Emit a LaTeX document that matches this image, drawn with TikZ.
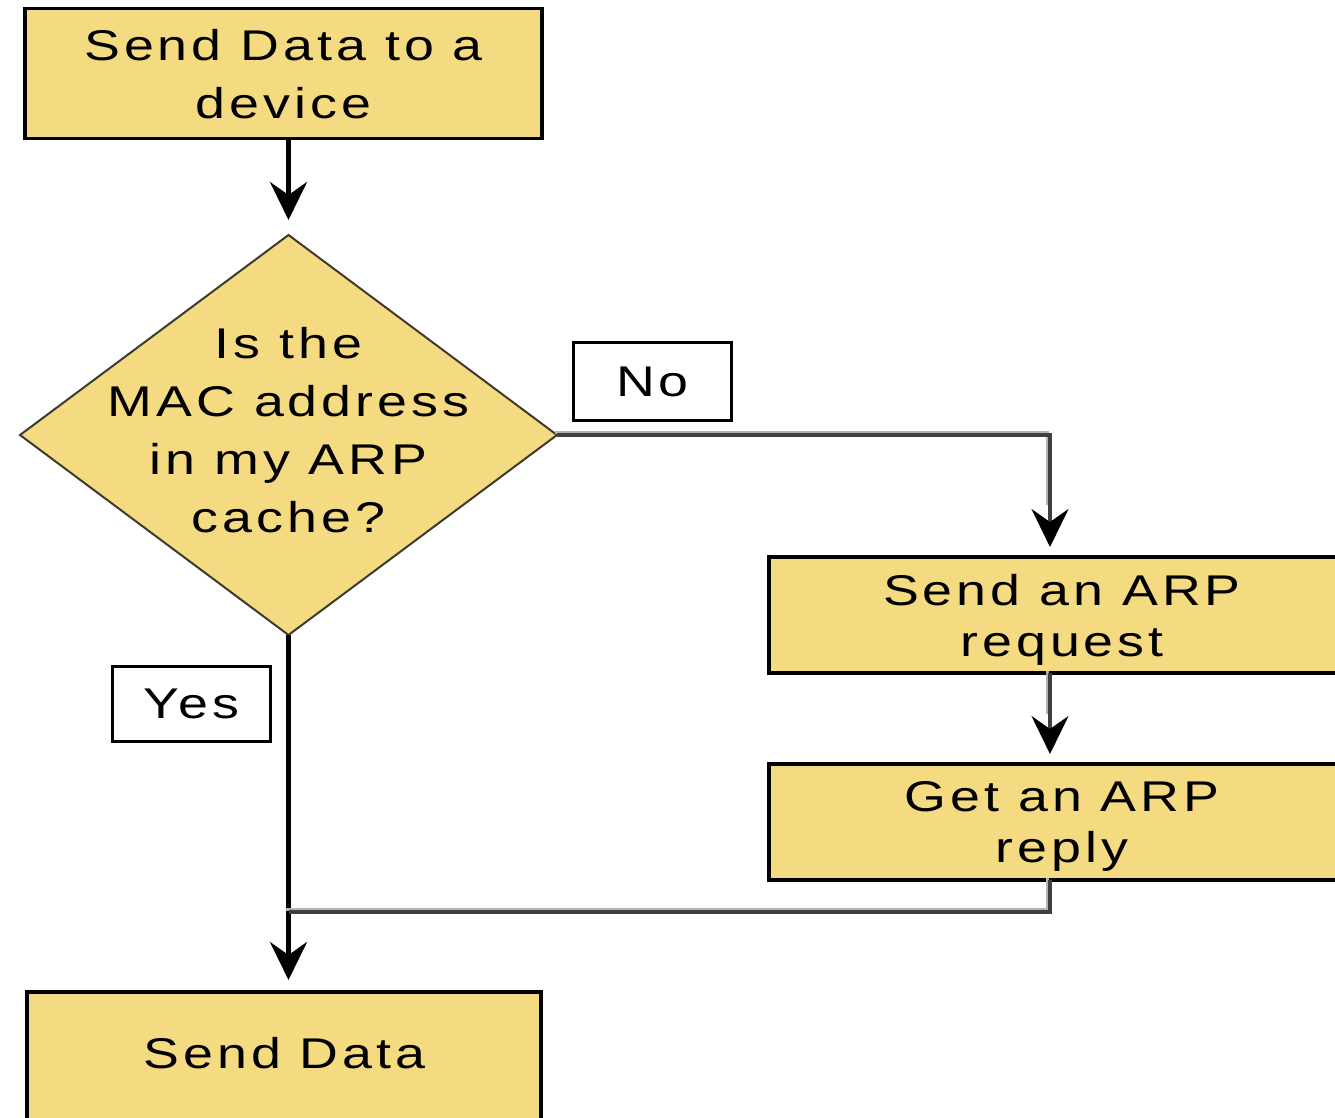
\documentclass[tikz,border=0pt]{standalone}
\usepackage{fontspec}
\setmainfont{Liberation Sans}[FakeStretch=1.25,LetterSpace=9.3]
\usetikzlibrary{shapes.geometric,arrows.meta}
\definecolor{boxfill}{HTML}{F4DA80}
\definecolor{diaedge}{HTML}{3E3A2C}
\definecolor{linedark}{HTML}{404040}
\definecolor{linelight}{HTML}{B4B4B4}

\begin{document}
\begin{tikzpicture}[x=1pt,y=-1pt,
  stepbox/.style={draw=black, line width=3.5pt, fill=boxfill, inner sep=0pt,
    outer sep=0pt, align=center, text depth=0pt},
  labelbox/.style={draw=black, line width=3.5pt, fill=white, inner sep=0pt,
    outer sep=0pt, text depth=0pt},
  decision/.style={diamond, draw=diaedge, line width=2pt, fill=boxfill,
    inner sep=0pt, outer sep=0pt},
  bigtext/.style={font=\fontsize{43}{58}\selectfont},
  boxtext/.style={font=\fontsize{43}{51}\selectfont},
  headarrow/.style={-{Stealth[length=38pt,width=37pt,inset=13pt,color=black]}},
  flow/.style={line width=4.5pt, draw=black},
  sidedark/.style={line width=3.5pt, draw=linedark, line join=miter},
  sidelight/.style={line width=3pt, draw=linelight, line join=miter,
    transform canvas={shift={(-2.5pt,2.5pt)}}},
]
\useasboundingbox (0,0) rectangle (1335,1118);
\fill[white] (0,0) rectangle (1335,1118);
\clip (0,0) rectangle (1335,1118);

% process steps and the decision
\node[stepbox, bigtext, minimum width=517pt, minimum height=130pt]
  (start) at (283.5,73.5) {Send Data to a\\device};
\node[decision, minimum width=537pt, minimum height=400pt]
  (ask) at (288.5,435) {};
\node[align=center, bigtext, text depth=0pt, inner sep=0pt]
  (asktext) at (288.5,430) {Is the\\MAC address\\in my ARP\\cache?};
\node[stepbox, boxtext, minimum width=586pt, minimum height=116pt]
  (request) at (1062,615) {Send an ARP\\request};
\node[stepbox, boxtext, minimum width=586pt, minimum height=116pt]
  (reply) at (1062,822) {Get an ARP\\reply};
\node[stepbox, minimum width=514pt, minimum height=138pt]
  (send) at (284,1061) {};
\node[bigtext, text depth=0pt, inner sep=0pt] (sendtext) at (284.5,1053) {Send Data};

% branch labels
\node[labelbox, bigtext, minimum width=158pt, minimum height=78pt]
  (no) at (652.5,381.5) {No};
\node[labelbox, bigtext, minimum width=158pt, minimum height=75pt]
  (yes) at (191.5,704) {Yes};

% connector anchor points
\coordinate (drop) at (1050,0);
\coordinate (merge) at (288.5,912);

% main flow
\draw[flow, headarrow, shorten >=15pt] (start.south -| ask.north) -- (ask.north);
\draw[flow, headarrow, shorten >=12pt] (ask.south) -- (ask.south |- send.north);

% "No" branch (shaded grey connectors)
\draw[sidelight, shorten >=50pt] (ask.east) -| (drop |- request.north);
\draw[sidedark, headarrow, shorten >=10pt] (ask.east) -| (drop |- request.north);
\draw[sidelight, shorten >=48pt] (drop |- request.south) -- (drop |- reply.north);
\draw[sidedark, headarrow, shorten >=10pt] (drop |- request.south) -- (drop |- reply.north);
\draw[sidelight] (drop |- reply.south) |- (merge);
\draw[sidedark] (drop |- reply.south) |- (merge);
\end{tikzpicture}
\end{document}
